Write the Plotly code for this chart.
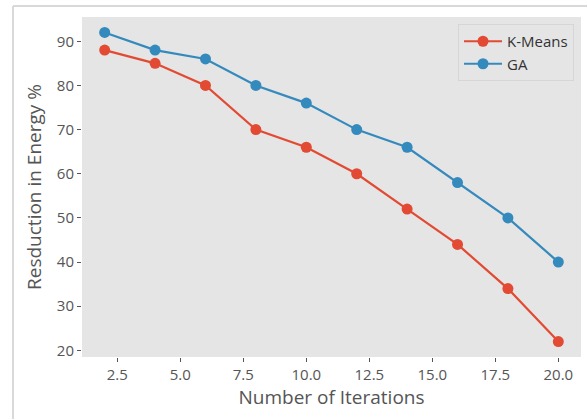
import plotly.graph_objects as go

iterations = [2, 4, 6, 8, 10, 12, 14, 16, 18, 20]
kmeans = [88, 85, 80, 70, 66, 60, 52, 44, 34, 22]
ga = [92, 88, 86, 80, 76, 70, 66, 58, 50, 40]
x_ticks = [2.5, 5.0, 7.5, 10.0, 12.5, 15.0, 17.5, 20.0]
y_ticks = [20, 30, 40, 50, 60, 70, 80, 90]

RED = "#E24A33"
BLUE = "#348ABD"
FONT = "Open Sans"

fig = go.Figure()
fig.add_trace(go.Scatter(x=iterations, y=kmeans, mode="lines+markers", name="K-Means",
                         line=dict(color=RED, width=2.2), marker=dict(size=11, color=RED)))
fig.add_trace(go.Scatter(x=iterations, y=ga, mode="lines+markers", name="GA",
                         line=dict(color=BLUE, width=2.2), marker=dict(size=11, color=BLUE)))

W, H = 587, 419
L, R, T, B = 82, 6, 17, 62
pw, ph = W - L - R, H - T - B

fig.update_layout(
    width=W, height=H,
    margin=dict(l=L, r=R, t=T, b=B),
    paper_bgcolor="white",
    plot_bgcolor="#E5E5E5",
    font=dict(family=FONT, color="#555555", size=15),
    showlegend=True,
    legend=dict(x=1 - 7 / pw, xanchor="right", y=1 - 7 / ph, yanchor="top",
                bgcolor="#E5E5E5", bordercolor="#D6D6D6", borderwidth=1,
                font=dict(family=FONT, size=15, color="#333333"),
                itemwidth=38, tracegroupgap=0),
    xaxis=dict(range=[1.1, 20.9], tickvals=x_ticks, ticktext=[f"{v:.1f}" for v in x_ticks],
               showgrid=False, zeroline=False, ticks="outside", ticklen=4, tickwidth=1,
               tickcolor="#555555", tickfont=dict(size=15, color="#555555"),
               title=dict(text="Number of Iterations", font=dict(size=19, color="#555555"), standoff=3)),
    yaxis=dict(range=[18.5, 95.5], tickvals=y_ticks, showgrid=False, zeroline=False,
               ticks="outside", ticklen=4, tickwidth=1, tickcolor="#555555",
               tickfont=dict(size=15, color="#555555"),
               title=dict(text="Resduction in Energy %", font=dict(size=19, color="#555555"), standoff=10)),
)

# outer frame lines (Jupyter output border)
fx0 = (13 - L) / pw
fy1 = 1 + (T - 6) / ph
fig.add_shape(type="line", xref="paper", yref="paper", x0=fx0, x1=fx0, y0=-(B) / ph - 0.01, y1=fy1,
              line=dict(color="#D9D9D9", width=2))
fig.add_shape(type="line", xref="paper", yref="paper", x0=fx0, x1=1 + R / pw + 0.01, y0=fy1, y1=fy1,
              line=dict(color="#D9D9D9", width=2))

fig.write_html("out.html")
